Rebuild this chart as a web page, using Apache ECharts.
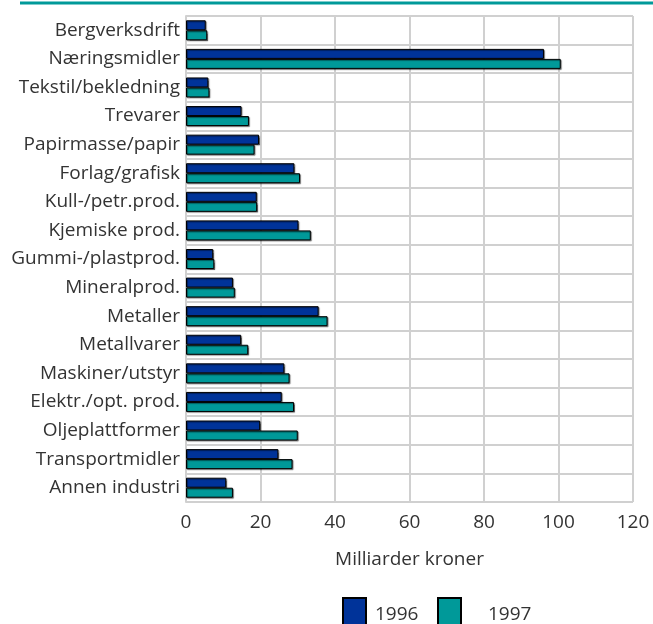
<!DOCTYPE html>
<html>
<head>
<meta charset="utf-8">
<script src="https://cdn.jsdelivr.net/npm/echarts@6/dist/echarts.min.js"></script>
<style>html,body{margin:0;padding:0;background:#fff}#c{width:653px;height:624px}</style>
</head>
<body>
<div id="c"></div>
<script>
const categories = ["Bergverksdrift","Næringsmidler","Tekstil/bekledning","Trevarer","Papirmasse/papir","Forlag/grafisk","Kull-/petr.prod.","Kjemiske prod.","Gummi-/plastprod.","Mineralprod.","Metaller","Metallvarer","Maskiner/utstyr","Elektr./opt. prod.","Oljeplattformer","Transportmidler","Annen industri"];
const values1996 = [5.3, 96.1, 6.0, 14.9, 19.6, 29.1, 19.0, 30.2, 7.3, 12.6, 35.6, 14.8, 26.4, 25.7, 19.9, 24.8, 10.8];
const values1997 = [5.7, 100.6, 6.3, 16.9, 18.4, 30.6, 19.1, 33.5, 7.6, 13.1, 38.0, 16.7, 27.8, 29.0, 30.0, 28.6, 12.6];
const xTicks = [0, 20, 40, 60, 80, 100, 120];
const seriesNames = ["1996", "1997"];

const font = "'Open Sans', 'Noto Sans', sans-serif";
const chart = echarts.init(document.getElementById('c'), null, {renderer: 'canvas'});
const barStyle = c => ({
  color: c, borderColor: '#000', borderWidth: 1,
  shadowColor: 'rgba(0,0,0,0.45)', shadowOffsetX: 1, shadowOffsetY: 1, shadowBlur: 1
});
chart.setOption({
  animation: false,
  textStyle: {fontFamily: font},
  graphic: [{
    type: 'line', shape: {x1: 20, y1: 3, x2: 653, y2: 3},
    style: {stroke: '#009999', lineWidth: 3}
  }],
  grid: {left: 186, right: 20, top: 16, bottom: 122, containLabel: false},
  legend: [{
    data: [{name: seriesNames[0], icon: 'rect'}], left: 337, top: 592, itemWidth: 23, itemHeight: 34, itemGap: 0,
    textStyle: {fontSize: 19, color: '#333', fontFamily: font, padding: [0, 0, 0, 4]}
  }, {
    data: [{name: seriesNames[1], icon: 'rect'}], left: 432, top: 592, itemWidth: 23, itemHeight: 34, itemGap: 0,
    textStyle: {fontSize: 19, color: '#333', fontFamily: font, padding: [0, 0, 0, 22]}
  }],
  xAxis: {
    type: 'value', min: 0, max: 120, interval: 20, position: 'bottom',
    name: 'Milliarder kroner', nameLocation: 'middle', nameGap: 48,
    nameTextStyle: {fontSize: 19, color: '#333', fontFamily: font},
    axisLine: {show: false}, axisTick: {show: false},
    axisLabel: {fontSize: 19, color: '#333', margin: 11, fontFamily: font,
      formatter: v => xTicks.includes(v) ? String(v) : ''},
    splitLine: {show: true, lineStyle: {color: '#d0d0d0', width: 2}}
  },
  yAxis: {
    type: 'category', data: categories, inverse: true,
    axisLine: {show: true, lineStyle: {color: '#d0d0d0', width: 2}},
    axisTick: {show: false},
    axisLabel: {fontSize: 19, color: '#333', margin: 6, fontFamily: font},
    splitLine: {show: true, lineStyle: {color: '#d0d0d0', width: 2}}
  },
  series: [{
    name: seriesNames[0], type: 'bar', data: values1996, barGap: '0%', barCategoryGap: '30%',
    itemStyle: barStyle('#003399')
  }, {
    name: seriesNames[1], type: 'bar', data: values1997, barGap: '0%', barCategoryGap: '30%',
    itemStyle: barStyle('#009999')
  }]
});
</script>
</body>
</html>
